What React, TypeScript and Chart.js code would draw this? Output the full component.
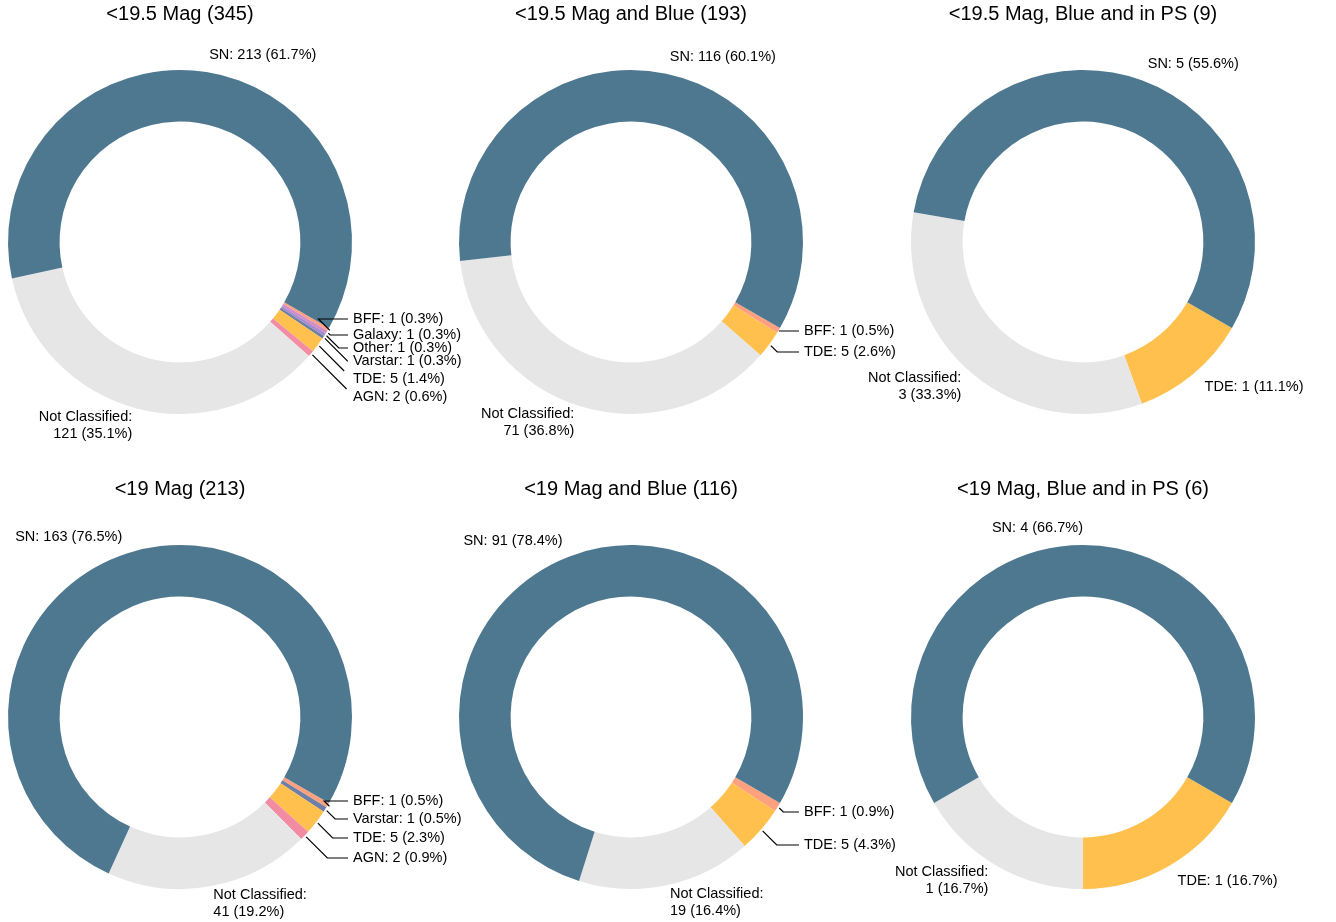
import React, { useEffect, useRef } from 'react';
import { Chart, registerables } from 'chart.js';
Chart.register(...registerables);

// ---- data (categories listed counter-clockwise, starting with SN) ----
const TITLES = [
  '<19.5 Mag (345)',
  '<19.5 Mag and Blue (193)',
  '<19.5 Mag, Blue and in PS (9)',
  '<19 Mag (213)',
  '<19 Mag and Blue (116)',
  '<19 Mag, Blue and in PS (6)',
];

const CATS_1 = ['SN', 'Not Classified', 'AGN', 'TDE', 'Varstar', 'Other', 'Galaxy', 'BFF'];
const VALS_1 = [213, 121, 2, 5, 1, 1, 1, 1];

const CATS_2 = ['SN', 'Not Classified', 'TDE', 'BFF'];
const VALS_2 = [116, 71, 5, 1];

const CATS_3 = ['SN', 'Not Classified', 'TDE'];
const VALS_3 = [5, 3, 1];

const CATS_4 = ['SN', 'Not Classified', 'AGN', 'TDE', 'Varstar', 'BFF'];
const VALS_4 = [163, 41, 2, 5, 1, 1];

const CATS_5 = ['SN', 'Not Classified', 'TDE', 'BFF'];
const VALS_5 = [91, 19, 5, 1];

const CATS_6 = ['SN', 'Not Classified', 'TDE'];
const VALS_6 = [4, 1, 1];

const CATS = [CATS_1, CATS_2, CATS_3, CATS_4, CATS_5, CATS_6];
const VALS = [VALS_1, VALS_2, VALS_3, VALS_4, VALS_5, VALS_6];

// ---- styles / layout ----
const COLORS: Record<string, string> = {
  SN: '#4e7890',
  'Not Classified': '#e6e6e6',
  TDE: '#ffc04d',
  AGN: '#f28ca2',
  BFF: '#ffa07f',
  Varstar: '#6e7fa6',
  Other: '#a98cd0',
  Galaxy: '#d28cc6',
};

// vertical offsets (px from pie centre) of the leader-line labels
const LEADER_DY: Record<string, number>[] = [
  { AGN: 155, TDE: 137, Varstar: 119, Other: 106, Galaxy: 93, BFF: 77 },
  { TDE: 110, BFF: 89 },
  {},
  { AGN: 141, TDE: 121, Varstar: 102, BFF: 84 },
  { TDE: 128, BFF: 95 },
  {},
];

const COL_X = [180, 631, 1083];
const ROW_Y = [242, 717];
const R = 172;
const CANVAS_W = 640;
const CANVAS_H = 475;
const OFF_X = 260;
const OFF_Y = 242;

const FONT = '"Liberation Sans", Arial, sans-serif';

function Panel({ idx }: { idx: number }) {
  const ref = useRef<HTMLCanvasElement | null>(null);
  const cx = COL_X[idx % 3];
  const cy = ROW_Y[Math.floor(idx / 3)];

  useEffect(() => {
    if (!ref.current) return;
    const cats = CATS[idx].slice().reverse();
    const vals = VALS[idx].slice().reverse();
    const title = TITLES[idx];
    const leader = LEADER_DY[idx];

    const labelPlugin = {
      id: 'pieLabels' + idx,
      afterDraw(chart: any) {
        const ctx = chart.ctx as CanvasRenderingContext2D;
        const meta = chart.getDatasetMeta(0);
        const data = chart.data.datasets[0].data as number[];
        const labels = chart.data.labels as string[];
        const total = data.reduce((a, b) => a + b, 0);
        const a0 = meta.data[0];
        const x0 = a0.x;
        const y0 = a0.y;
        const rad = a0.outerRadius;
        ctx.save();
        ctx.fillStyle = '#000';
        ctx.font = `20px ${FONT}`;
        ctx.textAlign = 'center';
        ctx.textBaseline = 'middle';
        ctx.fillText(title, x0, y0 - 228);

        ctx.font = `14.5px ${FONT}`;
        ctx.strokeStyle = '#000';
        ctx.lineWidth = 1.2;
        meta.data.forEach((arc: any, i: number) => {
          const v = data[i];
          const name = labels[i];
          const pct = (v / total) * 100;
          const pctTxt = `${v} (${pct.toFixed(1)}%)`;
          const mid = (arc.startAngle + arc.endAngle) / 2;
          const c = Math.cos(mid);
          const s = Math.sin(mid);
          if (pct >= 5) {
            const lx = x0 + 1.1 * rad * c;
            const ly = y0 + 1.1 * rad * s;
            const lines = name.includes(' ') ? [name + ':', pctTxt] : [name + ': ' + pctTxt];
            ctx.textAlign = c > 1e-6 ? 'left' : 'right';
            ctx.textBaseline = 'middle';
            lines.forEach((ln, k) => {
              ctx.fillText(ln, lx, ly + (k - (lines.length - 1) / 2) * 17);
            });
          } else {
            const sx = x0 + (rad + 2) * c;
            const sy = y0 + (rad + 2) * s;
            const ly = y0 + (leader[name] ?? 1.1 * rad * s);
            const tx = x0 + rad + 1;
            const ex = x0 + rad - 4;
            const dy = ly - sy;
            const cxr = sx + dy;
            ctx.beginPath();
            ctx.moveTo(sx, sy);
            if (cxr <= ex) {
              ctx.lineTo(cxr, ly);
              ctx.lineTo(ex, ly);
            } else {
              const t = Math.min(ex - sx, Math.abs(dy) - 8);
              ctx.lineTo(sx + t, sy + Math.sign(dy) * t);
            }
            ctx.stroke();
            ctx.textAlign = 'left';
            ctx.textBaseline = 'middle';
            ctx.fillText(name + ': ' + pctTxt, tx, ly);
          }
        });
        ctx.restore();
      },
    };

    const chart = new Chart(ref.current, {
      type: 'doughnut',
      data: {
        labels: cats,
        datasets: [
          {
            data: vals,
            backgroundColor: cats.map((c) => COLORS[c]),
            borderWidth: 0,
            hoverOffset: 0,
          },
        ],
      },
      options: {
        responsive: false,
        animation: false,
        rotation: 120,
        cutout: '70%',
        layout: {
          padding: {
            left: OFF_X - R,
            top: OFF_Y - R,
            right: CANVAS_W - OFF_X - R,
            bottom: CANVAS_H - OFF_Y - R,
          },
        },
        plugins: {
          legend: { display: false },
          tooltip: { enabled: false },
          title: { display: false },
        },
      },
      plugins: [labelPlugin],
    });
    return () => chart.destroy();
  }, [idx]);

  return (
    <canvas
      ref={ref}
      width={CANVAS_W}
      height={CANVAS_H}
      style={{
        position: 'absolute',
        left: cx - OFF_X,
        top: cy - OFF_Y,
        width: CANVAS_W,
        height: CANVAS_H,
      }}
    />
  );
}

export default function App() {
  return (
    <div
      style={{
        position: 'fixed',
        left: 0,
        top: 0,
        width: 1336,
        height: 922,
        overflow: 'hidden',
        background: '#fff',
      }}
    >
      {[0, 1, 2, 3, 4, 5].map((i) => (
        <Panel key={i} idx={i} />
      ))}
    </div>
  );
}
